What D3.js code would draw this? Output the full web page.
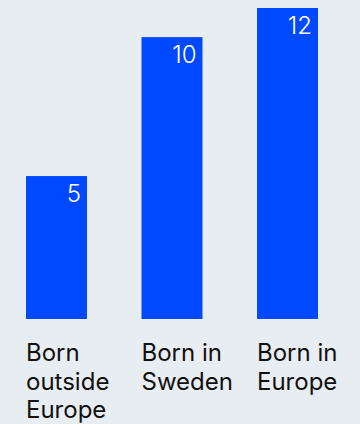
<!DOCTYPE html>
<html>
<head>
<meta charset="utf-8">
<script src="https://cdn.jsdelivr.net/npm/d3@7"></script>
<style>
  html, body { margin: 0; padding: 0; background: #e8edf2; }
  svg { display: block; }
</style>
</head>
<body>
<svg id="chart" width="360" height="424"></svg>
<script>
const categories = ["Born outside Europe", "Born in Sweden", "Born in Europe"];
const values = [5.3, 10.45, 11.53];

const W = 360, H = 424;
const svg = d3.select("#chart");
svg.append("rect").attr("width", W).attr("height", H).attr("fill", "#e8edf2");

const x = d3.scaleBand().domain(categories).range([26, 318]).paddingInner(0.472).paddingOuter(0);
const y = d3.scaleLinear().domain([0, d3.max(values)]).range([319, 8]);
const fmt = d3.format(".0f");

const data = categories.map((c, i) => ({ c, v: values[i] }));

const g = svg.append("g");
g.selectAll("rect.bar").data(data).join("rect")
  .attr("class", "bar")
  .attr("x", d => x(d.c))
  .attr("y", d => y(d.v))
  .attr("width", x.bandwidth())
  .attr("height", d => y(0) - y(d.v))
  .attr("fill", "#0049ff");

g.selectAll("text.val").data(data).join("text")
  .attr("class", "val")
  .attr("x", d => x(d.c) + x.bandwidth() - 6)
  .attr("y", d => y(d.v) + 26)
  .attr("text-anchor", "end")
  .attr("fill", "#ffffff")
  .attr("font-family", "Inter, 'Noto Sans', sans-serif")
  .attr("font-weight", 300)
  .attr("font-size", 24)
  .text(d => fmt(d.v));

const labels = g.selectAll("text.cat").data(data).join("text")
  .attr("class", "cat")
  .attr("x", d => x(d.c))
  .attr("y", 361)
  .attr("fill", "#111111")
  .attr("font-family", "Inter, 'Noto Sans', sans-serif")
  .attr("font-size", 24)
  .text(d => d.c);

function wrap(sel, width, lh) {
  sel.each(function () {
    const t = d3.select(this);
    const words = t.text().split(/\s+/);
    const x0 = t.attr("x"), y0 = +t.attr("y");
    t.text(null);
    let line = [], n = 0;
    let ts = t.append("tspan").attr("x", x0).attr("y", y0);
    for (const w of words) {
      line.push(w);
      ts.text(line.join(" "));
      if (ts.node().getComputedTextLength() > width && line.length > 1) {
        line.pop();
        ts.text(line.join(" "));
        line = [w];
        n++;
        ts = t.append("tspan").attr("x", x0).attr("y", y0 + n * lh).text(w);
      }
    }
  });
}
labels.call(wrap, 108, 28.5);
</script>
</body>
</html>
